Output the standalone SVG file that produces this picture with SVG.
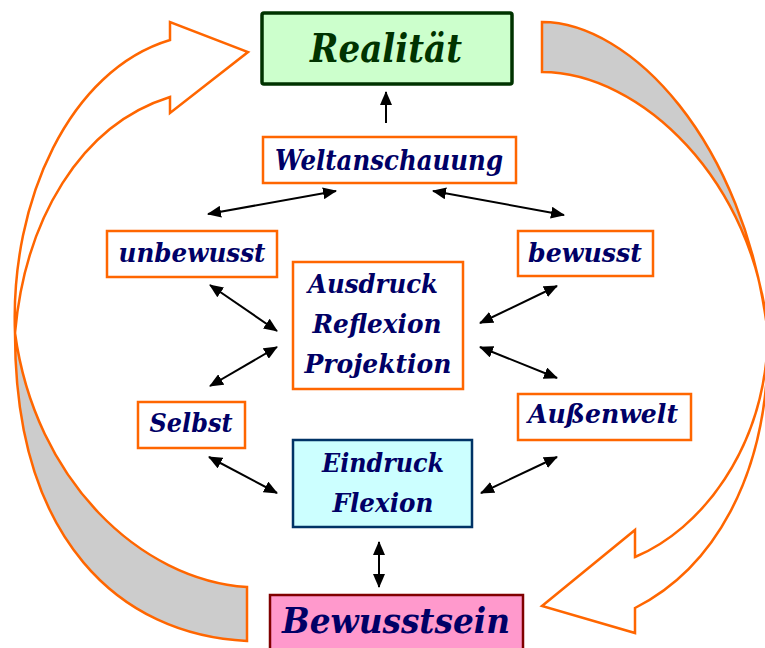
<svg xmlns="http://www.w3.org/2000/svg" width="765" height="648" viewBox="0 0 765 648">
<style>
.box{fill:#ffffff;stroke:#ff6600;stroke-width:2.5}
.t{font-family:"DejaVu Serif","Liberation Serif",serif;font-style:italic;font-weight:bold;fill:#000066;font-size:26px}
.big{stroke:#ff6600;stroke-width:2.5;stroke-linejoin:miter}
.ar{stroke:#000000;stroke-width:2;fill:none;marker-start:url(#ah);marker-end:url(#ah)}
</style>
<defs>
<marker id="ah" markerUnits="userSpaceOnUse" markerWidth="14" markerHeight="12" refX="13" refY="6" orient="auto-start-reverse" viewBox="0 0 14 12">
<path d="M0,0 L14,6 L0,12 z" fill="#000000"/>
</marker>
</defs>
<rect width="765" height="648" fill="#ffffff"/>
<g id="big-arrows">
<path class="big" fill="#ffffff" d="M15,333 C10,200 70,70 170,40 L170,22 L248,52 L170,113 L170,97 C80,125 25,220 15,333 Z"/>
<path class="big" fill="#cccccc" d="M15,333 C15,540 120,635 247,641 L247,587 C140,580 35,480 15,333 Z"/>
<path class="big" fill="#cccccc" d="M542,22 C630,22 745,140 768,335 C755,180 640,72 542,72 Z"/>
<path class="big" fill="#ffffff" d="M768,335 C770,480 710,570 635,608 L635,633 L542,606 L635,530 L635,557 C700,530 765,450 768,335 Z"/>
</g>
<g id="connectors">
<line x1="386" y1="123" x2="386" y2="92" stroke="#000" stroke-width="2" marker-end="url(#ah)"/>
<line class="ar" x1="208" y1="214" x2="336" y2="191"/>
<line class="ar" x1="433" y1="191" x2="564" y2="215"/>
<line class="ar" x1="210" y1="285" x2="277" y2="331"/>
<line class="ar" x1="277" y1="347" x2="210" y2="386"/>
<line class="ar" x1="557" y1="286" x2="480" y2="323"/>
<line class="ar" x1="480" y1="347" x2="557" y2="378"/>
<line class="ar" x1="209" y1="457" x2="277" y2="493"/>
<line class="ar" x1="557" y1="457" x2="481" y2="493"/>
<line class="ar" x1="379" y1="542" x2="379" y2="587"/>
</g>
<g id="realitaet">
<rect x="262" y="13" width="250" height="71" fill="#ccffcc" stroke="#003300" stroke-width="3.5" rx="2"/>
<text class="t" x="386" y="62" text-anchor="middle" style="font-size:39px;fill:#003300" textLength="152" lengthAdjust="spacingAndGlyphs">Realität</text>
</g>
<g id="weltanschauung">
<rect class="box" x="263" y="137" width="253" height="46"/>
<text class="t" x="389" y="170" text-anchor="middle" style="font-size:28px" textLength="228" lengthAdjust="spacingAndGlyphs">Weltanschauung</text>
</g>
<g id="unbewusst">
<rect class="box" x="107" y="231" width="170" height="46"/>
<text class="t" x="192" y="262" text-anchor="middle" textLength="147" lengthAdjust="spacingAndGlyphs">unbewusst</text>
</g>
<g id="bewusst">
<rect class="box" x="518" y="231" width="135" height="45"/>
<text class="t" x="585" y="262" text-anchor="middle" textLength="114" lengthAdjust="spacingAndGlyphs">bewusst</text>
</g>
<g id="ausdruck">
<rect class="box" x="293" y="262" width="170" height="127"/>
<text class="t" x="373" y="293" text-anchor="middle" textLength="130" lengthAdjust="spacingAndGlyphs">Ausdruck</text>
<text class="t" x="377" y="333" text-anchor="middle" textLength="129" lengthAdjust="spacingAndGlyphs">Reflexion</text>
<text class="t" x="378" y="373" text-anchor="middle" textLength="147" lengthAdjust="spacingAndGlyphs">Projektion</text>
</g>
<g id="selbst">
<rect class="box" x="138" y="402" width="107" height="46"/>
<text class="t" x="191" y="432" text-anchor="middle" textLength="83" lengthAdjust="spacingAndGlyphs">Selbst</text>
</g>
<g id="aussenwelt">
<rect class="box" x="518" y="394" width="173" height="46"/>
<text class="t" x="603" y="423" text-anchor="middle" textLength="150" lengthAdjust="spacingAndGlyphs">Außenwelt</text>
</g>
<g id="eindruck">
<rect x="293" y="440" width="179" height="87" fill="#ccffff" stroke="#003366" stroke-width="2.5"/>
<text class="t" x="383" y="472" text-anchor="middle" textLength="122" lengthAdjust="spacingAndGlyphs">Eindruck</text>
<text class="t" x="383" y="512" text-anchor="middle" textLength="101" lengthAdjust="spacingAndGlyphs">Flexion</text>
</g>
<g id="bewusstsein">
<rect x="270" y="595" width="253" height="70" fill="#ff99cc" stroke="#800000" stroke-width="2.5"/>
<text class="t" x="396" y="633" text-anchor="middle" style="font-size:36px" textLength="228" lengthAdjust="spacingAndGlyphs">Bewusstsein</text>
</g>
</svg>
